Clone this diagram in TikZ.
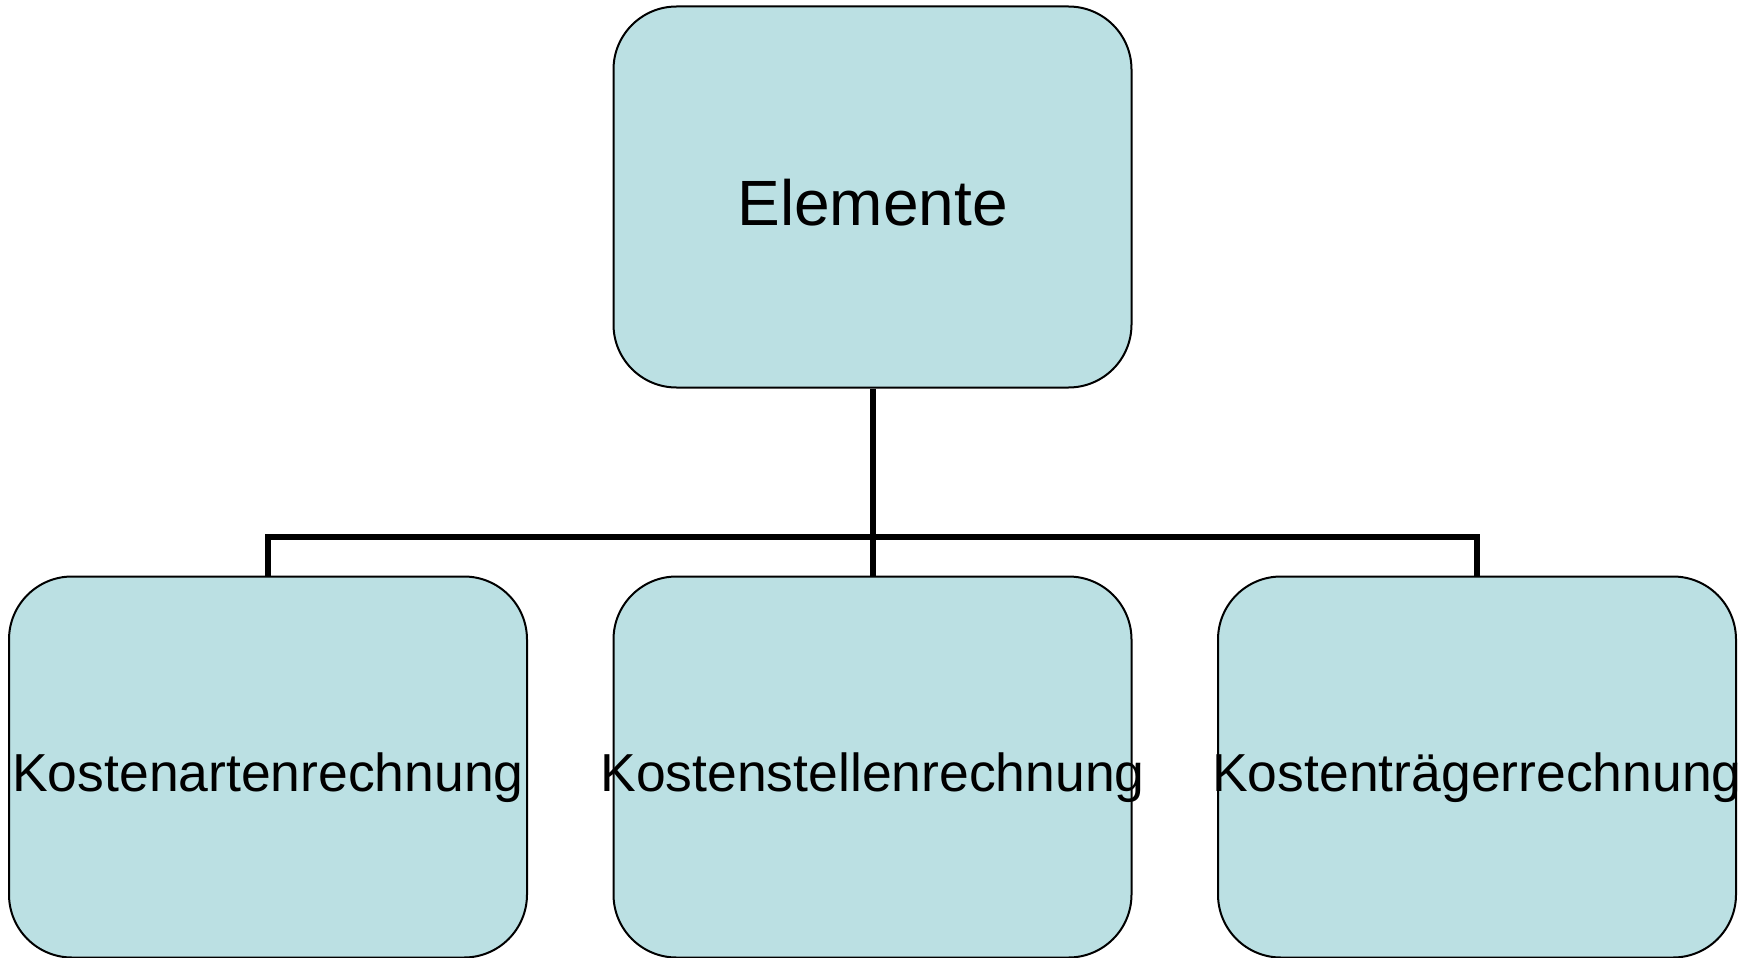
\documentclass[tikz,border=0pt]{standalone}
\usepackage{fontspec}
\setmainfont{Liberation Sans}
\definecolor{boxfill}{RGB}{187,224,227}
\begin{document}
\begin{tikzpicture}[x=1pt,y=-1pt,
  orgbox/.style={draw=black,line width=2pt,fill=boxfill,rounded corners=63pt,
    minimum width=518pt,minimum height=381pt,inner sep=0pt},
  toplabel/.style={anchor=base,inner sep=0pt,font=\fontsize{64}{70}\selectfont},
  sublabel/.style={anchor=base,inner sep=0pt,font=\fontsize{53.5}{60}\selectfont},
  link/.style={draw=black,line width=6pt}]
  \useasboundingbox (0,0) rectangle (1762,958);

  % boxes
  \node[orgbox] (root) at (872.5,197) {};
  \node[orgbox] (arten) at (268,767) {};
  \node[orgbox] (stellen) at (872.5,767) {};
  \node[orgbox] (traeger) at (1477,767) {};

  % connectors: trunk down to the bus, branches down to each box
  \coordinate (bus) at (872.5,537);
  \draw[link] (root.south) -- (bus);
  \draw[link] (bus) -| (arten.north);
  \draw[link] (bus) -| (traeger.north);
  \draw[link] (bus) -- (stellen.north);

  % labels
  \node[toplabel] (rootlbl) at ([yshift=-28pt]root.center) {Elemente};
  \node[sublabel] (artenlbl) at ([yshift=-24pt]arten.center) {Kostenartenrechnung};
  \node[sublabel] (stellenlbl) at ([yshift=-24pt]stellen.center) {Kostenstellenrechnung};
  \node[sublabel] (traegerlbl) at ([yshift=-24pt]traeger.center) {Kostenträgerrechnung};
\end{tikzpicture}
\end{document}
